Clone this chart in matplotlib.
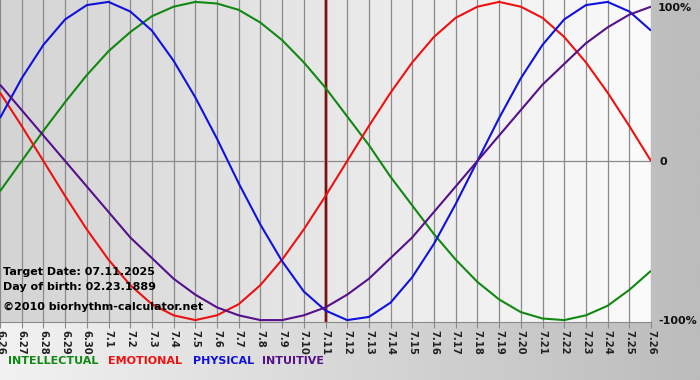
import numpy as np
import matplotlib.pyplot as plt

# day labels along the bottom (6.26 .. 7.26)
days = ["6.26", "6.27", "6.28", "6.29", "6.30", "7.1", "7.2", "7.3", "7.4", "7.5",
        "7.6", "7.7", "7.8", "7.9", "7.10", "7.11", "7.12", "7.13", "7.14", "7.15",
        "7.16", "7.17", "7.18", "7.19", "7.20", "7.21", "7.22", "7.23", "7.24", "7.25", "7.26"]
target_day = "7.11"

# cycle values, one per day (-1 .. 1)
intellectual = [-0.19, 0.00, 0.19, 0.37, 0.54, 0.69, 0.81, 0.91, 0.97, 1.00, 0.99,
                0.95, 0.87, 0.76, 0.62, 0.46, 0.28, 0.10, -0.10, -0.28, -0.46,
                -0.62, -0.76, -0.87, -0.95, -0.99, -1.00, -0.97, -0.91, -0.81, -0.69]
emotional = [0.43, 0.22, 0.00, -0.22, -0.43, -0.62, -0.78, -0.90, -0.97, -1.00, -0.97,
             -0.90, -0.78, -0.62, -0.43, -0.22, 0.00, 0.22, 0.43, 0.62, 0.78,
             0.90, 0.97, 1.00, 0.97, 0.90, 0.78, 0.62, 0.43, 0.22, 0.00]
physical = [0.27, 0.52, 0.73, 0.89, 0.98, 1.00, 0.94, 0.82, 0.63, 0.40, 0.14,
            -0.14, -0.40, -0.63, -0.82, -0.94, -1.00, -0.98, -0.89, -0.73, -0.52,
            -0.27, 0.00, 0.27, 0.52, 0.73, 0.89, 0.98, 1.00, 0.94, 0.82]
intuitive = [0.48, 0.32, 0.16, 0.00, -0.16, -0.32, -0.48, -0.61, -0.74, -0.84, -0.92,
             -0.97, -1.00, -1.00, -0.97, -0.92, -0.84, -0.74, -0.61, -0.48, -0.32,
             -0.16, 0.00, 0.16, 0.32, 0.48, 0.61, 0.74, 0.84, 0.92, 0.97]

series = [("INTELLECTUAL", intellectual, "#118811"),
          ("EMOTIONAL", emotional, "#ee1111"),
          ("PHYSICAL", physical, "#1111dd"),
          ("INTUITIVE", intuitive, "#55108a")]

fig = plt.figure(figsize=(7, 3.8), dpi=100)
cmap_of = plt.matplotlib.colors.LinearSegmentedColormap.from_list

# figure background: light on the left, grey on the right
bg = fig.add_axes([0, 0, 1, 1], zorder=-10)
grad = np.linspace(0, 1, 256).reshape(1, -1)
bg.imshow(grad, aspect="auto", cmap=cmap_of("bgc", ["#f2f2f2", "#bcbcbc"]),
          extent=[0, 1, 0, 1])
bg.axis("off")

ax = fig.add_axes([0.0, 0.1526, 0.93, 0.8474])
ax.set_facecolor("none")
x = np.arange(len(days))
ax.set_xlim(0, len(days) - 1)
ax.set_ylim(-1.012, 1.012)

# plot area gradient
ax.imshow(grad, aspect="auto", extent=[0, len(days) - 1, -1.012, 1.012], zorder=0,
          cmap=cmap_of("pa", ["#d4d4d4", "#fbfbfb"]))

for xi in x:
    ax.axvline(xi, color="#8a8a8a", lw=0.9, zorder=1)
ax.axhline(0, color="#8a8a8a", lw=0.9, zorder=1)

ti = days.index(target_day)
ax.axvline(ti, color="#c08080", lw=2.6, zorder=2)
ax.axvline(ti, color="#6a0a0a", lw=1.3, zorder=2)

for name, vals, col in series:
    ax.plot(x, vals, color=col, lw=1.5, zorder=3, solid_capstyle="butt")

for s in ax.spines.values():
    s.set_visible(False)
ax.spines["bottom"].set_visible(True)
ax.spines["bottom"].set_color("#8a8a8a")

ax.set_xticks(x)
ax.set_xticklabels(days, rotation=270, fontsize=7.2, fontweight="bold", color="#222222")
ax.tick_params(axis="x", length=4, color="#8a8a8a", pad=2)
ax.set_yticks([])

# right side scale labels
for ypx, xpx, lab in [(8, 658, "100%"), (162, 660, "0"), (321, 658, "-100%")]:
    fig.text(xpx / 700, 1 - ypx / 380, lab, ha="left", va="center",
             fontsize=8, fontweight="bold", color="#111111")

ax.text(0.004, 0.146, "Target Date: 07.11.2025", transform=ax.transAxes,
        fontsize=8, fontweight="bold", zorder=4)
ax.text(0.004, 0.099, "Day of birth: 02.23.1889", transform=ax.transAxes,
        fontsize=8, fontweight="bold", zorder=4)
ax.text(0.004, 0.036, "\u00a92010 biorhythm-calculator.net", transform=ax.transAxes,
        fontsize=8, fontweight="bold", zorder=4)

# legend row at the bottom
xpos = [8, 108, 193, 262]
for (name, vals, col), px in zip(series, xpos):
    fig.text(px / 700, 1 - 361 / 380, name, color=col, fontsize=8, fontweight="bold",
             va="center", ha="left")

plt.savefig("out.png", dpi=100)
